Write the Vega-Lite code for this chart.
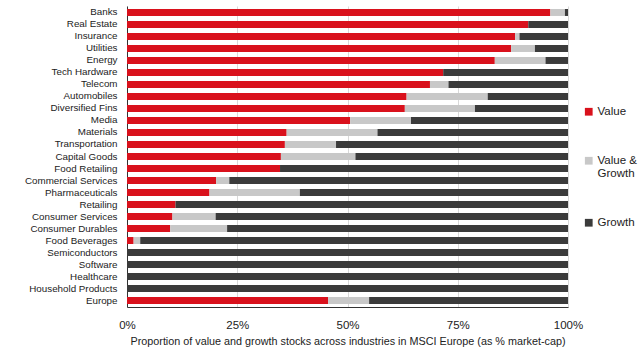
{
  "$schema": "https://vega.github.io/schema/vega-lite/v6.json",
  "autosize": "none",
  "width": 441,
  "height": 301,
  "padding": {"left": 127, "top": 6, "right": 72, "bottom": 53},
  "background": "white",
  "config": {
    "font": "Liberation Sans",
    "view": {"stroke": null}
  },
  "data": {
    "values": [
      {"industry": "Banks", "Value": 96.0, "Value & Growth": 3.3, "Growth": 0.7},
      {"industry": "Real Estate", "Value": 91.0, "Value & Growth": 0, "Growth": 9.0},
      {"industry": "Insurance", "Value": 88.0, "Value & Growth": 1.0, "Growth": 11.0},
      {"industry": "Utilities", "Value": 87.1, "Value & Growth": 5.4, "Growth": 7.5},
      {"industry": "Energy", "Value": 83.4, "Value & Growth": 11.5, "Growth": 5.1},
      {"industry": "Tech Hardware", "Value": 71.7, "Value & Growth": 0, "Growth": 28.3},
      {"industry": "Telecom", "Value": 68.7, "Value & Growth": 4.2, "Growth": 27.1},
      {"industry": "Automobiles", "Value": 63.4, "Value & Growth": 18.4, "Growth": 18.2},
      {"industry": "Diversified Fins", "Value": 63.0, "Value & Growth": 15.9, "Growth": 21.1},
      {"industry": "Media", "Value": 50.6, "Value & Growth": 13.8, "Growth": 35.6},
      {"industry": "Materials", "Value": 36.2, "Value & Growth": 20.6, "Growth": 43.2},
      {"industry": "Transportation", "Value": 35.8, "Value & Growth": 11.6, "Growth": 52.6},
      {"industry": "Capital Goods", "Value": 34.9, "Value & Growth": 16.9, "Growth": 48.2},
      {"industry": "Food Retailing", "Value": 34.7, "Value & Growth": 0, "Growth": 65.3},
      {"industry": "Commercial Services", "Value": 20.2, "Value & Growth": 3.0, "Growth": 76.8},
      {"industry": "Pharmaceuticals", "Value": 18.7, "Value & Growth": 20.5, "Growth": 60.8},
      {"industry": "Retailing", "Value": 11.0, "Value & Growth": 0, "Growth": 89.0},
      {"industry": "Consumer Services", "Value": 10.3, "Value & Growth": 9.8, "Growth": 79.9},
      {"industry": "Consumer Durables", "Value": 9.8, "Value & Growth": 12.9, "Growth": 77.3},
      {"industry": "Food Beverages", "Value": 1.5, "Value & Growth": 1.5, "Growth": 97.0},
      {"industry": "Semiconductors", "Value": 0, "Value & Growth": 0, "Growth": 100},
      {"industry": "Software", "Value": 0, "Value & Growth": 0, "Growth": 100},
      {"industry": "Healthcare", "Value": 0, "Value & Growth": 0, "Growth": 100},
      {"industry": "Household Products", "Value": 0, "Value & Growth": 0, "Growth": 100},
      {"industry": "Europe", "Value": 45.6, "Value & Growth": 9.3, "Growth": 45.1}
    ]
  },
  "transform": [
    {"fold": ["Value", "Value & Growth", "Growth"], "as": ["type", "share"]},
    {
      "lookup": "type",
      "from": {
        "data": {"values": [
          {"type": "Value", "rank": 1},
          {"type": "Value & Growth", "rank": 2},
          {"type": "Growth", "rank": 3}
        ]},
        "key": "type",
        "fields": ["rank"]
      }
    }
  ],
  "mark": {"type": "bar"},
  "encoding": {
    "y": {
      "field": "industry",
      "type": "nominal",
      "sort": null,
      "scale": {"paddingInner": 0.42, "paddingOuter": 0.25},
      "axis": {
        "title": null,
        "ticks": false,
        "labelPadding": 10,
        "labelFontSize": 9.8,
        "labelColor": "#222222",
        "domainColor": "#333333",
        "labelLimit": 200
      }
    },
    "x": {
      "field": "share",
      "type": "quantitative",
      "stack": "zero",
      "scale": {"domain": [0, 100], "nice": false},
      "axis": {
        "values": [0, 25, 50, 75, 100],
        "labelExpr": "datum.value + '%'",
        "ticks": false,
        "labelPadding": 12,
        "labelFontSize": 11.5,
        "labelColor": "#222222",
        "labelFlush": false,
        "grid": true,
        "gridColor": "#d9d9d9",
        "domainColor": "#333333",
        "title": "Proportion of value and growth stocks across industries in MSCI Europe (as % market-cap)",
        "titleFontSize": 10.8,
        "titleFontWeight": "normal",
        "titleColor": "#222222",
        "titlePadding": 5
      }
    },
    "order": {"field": "rank", "type": "quantitative"},
    "color": {
      "field": "type",
      "type": "nominal",
      "sort": ["Value", "Value & Growth", "Growth"],
      "scale": {
        "domain": ["Value", "Value & Growth", "Growth"],
        "range": ["#d9111c", "#c8c8c8", "#3b3b3b"]
      },
      "legend": {
        "title": null,
        "orient": "none",
        "legendX": 456,
        "legendY": 100,
        "symbolType": "square",
        "symbolSize": 60,
        "symbolStrokeWidth": 0,
        "labelFontSize": 11.5,
        "labelColor": "#222222",
        "rowPadding": 36,
        "labelOffset": 3,
        "labelExpr": "datum.label == 'Value & Growth' ? ['Value &', 'Growth'] : datum.label"
      }
    }
  }
}
